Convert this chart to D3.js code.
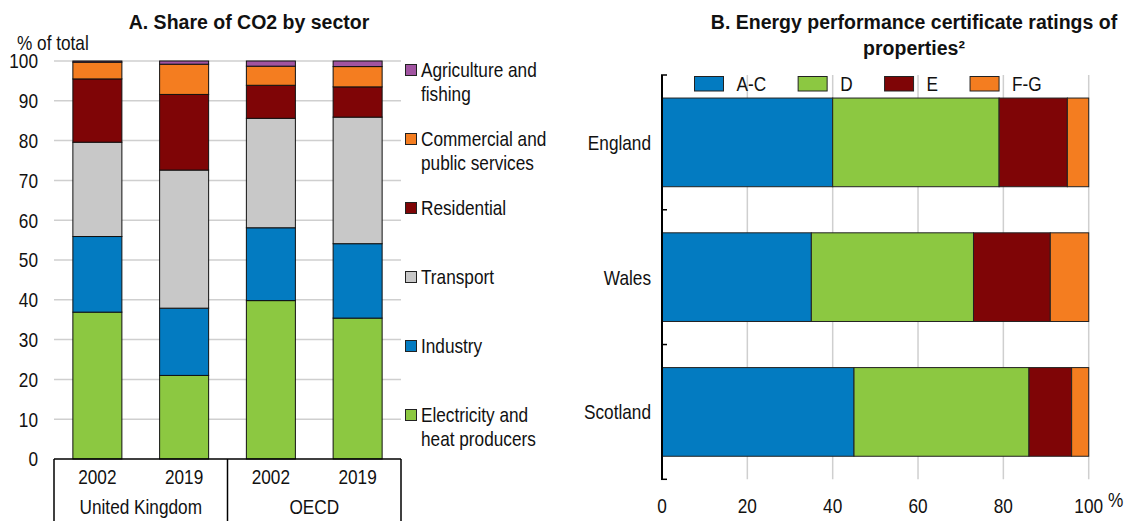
<!DOCTYPE html>
<html><head><meta charset="utf-8">
<script src="https://cdn.jsdelivr.net/npm/d3@7"></script>
<style>body{margin:0;background:#fff}svg{display:block}</style>
</head><body><svg id="c" width="1128" height="521"></svg>
<script>
// ---------- Panel A data ----------
const yearsA = ["2002", "2019", "2002", "2019"];
const groupsA = ["United Kingdom", "OECD"];
const sectorKeys = ["electricity", "industry", "transport", "residential", "commercial", "agriculture"];
const sectorLabels = [["Electricity and", "heat producers"], ["Industry"], ["Transport"], ["Residential"], ["Commercial and", "public services"], ["Agriculture and", "fishing"]];
const electricity = [36.9, 21.0, 39.8, 35.4];
const industry = [19.0, 16.9, 18.3, 18.7];
const transport = [23.7, 34.7, 27.5, 31.8];
const residential = [15.9, 19.0, 8.3, 7.6];
const commercial = [4.2, 7.6, 4.8, 5.1];
const agriculture = [0.3, 0.8, 1.3, 1.4];
const yTicksA = [0, 10, 20, 30, 40, 50, 60, 70, 80, 90, 100];

// ---------- Panel B data ----------
const regionsB = ["England", "Wales", "Scotland"];
const ratingKeys = ["A-C", "D", "E", "F-G"];
const ratingAC = [40, 35, 45];
const ratingD = [39, 38, 41];
const ratingE = [16, 18, 10];
const ratingFG = [5, 9, 4];
const xTicksB = [0, 20, 40, 60, 80, 100];

const sectorColors = ["#8cc841", "#037bc1", "#c8c8c8", "#7f0506", "#f47d20", "#a154a1"];
const ratingColors = ["#037bc1", "#8cc841", "#7f0506", "#f47d20"];

const FONT = '"Liberation Sans", Arial, sans-serif';
const SQ = 0.82; // horizontal squeeze to mimic a narrow face
const svg = d3.select("#c");

// narrow-looking label helper
function label(g, x, y, txt, anchor = "start", size = 21) {
  return g.append("text")
    .attr("transform", `translate(${x},${y}) scale(${SQ},1)`)
    .attr("dy", "0.35em").attr("text-anchor", anchor)
    .attr("font-family", FONT).attr("font-size", size).attr("fill", "#111").text(txt);
}

// ================= Panel A =================
{
  const rowsA = yearsA.map((y, i) => ({
    idx: i, electricity: electricity[i], industry: industry[i], transport: transport[i],
    residential: residential[i], commercial: commercial[i], agriculture: agriculture[i]
  }));
  const stackA = d3.stack().keys(sectorKeys)(rowsA);
  const x = d3.scaleBand().domain(d3.range(yearsA.length)).range([54, 401]).padding(0);
  const y = d3.scaleLinear().domain([0, 100]).range([459, 61]);
  const barW = x.bandwidth() * 0.565;
  const g = svg.append("g");

  g.selectAll("line.grid").data(yTicksA.filter(d => d > 0)).join("line")
    .attr("x1", 54).attr("x2", 401).attr("y1", d => y(d)).attr("y2", d => y(d))
    .attr("stroke", "#cfcfcf").attr("stroke-width", 1.5);

  yTicksA.forEach(d => label(g, 38, y(d), d, "end"));
  label(g, 17, 43, "% of total");

  stackA.forEach((s, si) => {
    g.selectAll(null).data(s).join("rect")
      .attr("x", (d, i) => x(i) + (x.bandwidth() - barW) / 2)
      .attr("width", barW)
      .attr("y", d => y(d[1]))
      .attr("height", d => y(d[0]) - y(d[1]))
      .attr("fill", sectorColors[si]).attr("stroke", "#111").attr("stroke-width", 1);
  });

  // x axis
  g.append("line").attr("x1", 54).attr("x2", 401).attr("y1", 459).attr("y2", 459)
    .attr("stroke", "#000").attr("stroke-width", 1.5);
  [54, x(2), 401].forEach(px => g.append("line").attr("x1", px).attr("x2", px)
    .attr("y1", 459).attr("y2", 521).attr("stroke", "#000").attr("stroke-width", 1.5));
  yearsA.forEach((d, i) => label(g, x(i) + x.bandwidth() / 2, 477, d, "middle"));
  groupsA.forEach((gName, gi) =>
    label(g, (x(gi * 2) + x(gi * 2 + 1) + x.bandwidth()) / 2, 507, gName, "middle"));

  // title
  g.append("text").attr("x", 249).attr("y", 22).attr("dy", "0.35em").attr("text-anchor", "middle")
    .attr("font-family", FONT).attr("font-weight", "bold").attr("font-size", 19.5).attr("fill", "#111")
    .text("A. Share of CO2 by sector");

  // legend (top to bottom: reverse of stacking order)
  const legOrder = d3.range(sectorKeys.length).reverse();
  legOrder.forEach((si, k) => {
    const cy = 70 + k * 69;
    g.append("rect").attr("x", 405.5).attr("y", cy - 5.5).attr("width", 11).attr("height", 11)
      .attr("fill", sectorColors[si]).attr("stroke", "#222").attr("stroke-width", 1);
    sectorLabels[si].forEach((line, li) => label(g, 421, cy + li * 24, line));
  });
}

// ================= Panel B =================
{
  const rowsB = regionsB.map((r, i) => ({ region: r, "A-C": ratingAC[i], "D": ratingD[i], "E": ratingE[i], "F-G": ratingFG[i] }));
  const stackB = d3.stack().keys(ratingKeys)(rowsB);
  const x = d3.scaleLinear().domain([0, 100]).range([662, 1088.7]);
  const y = d3.scaleBand().domain(regionsB).range([75, 479.3]).paddingInner(0.342).paddingOuter(0.171);
  const g = svg.append("g");

  g.selectAll("line.grid").data(xTicksB.filter(d => d > 0)).join("line")
    .attr("x1", d => x(d)).attr("x2", d => x(d)).attr("y1", 75).attr("y2", 479.3)
    .attr("stroke", "#cfcfcf").attr("stroke-width", 1.5);

  stackB.forEach((s, si) => {
    g.selectAll(null).data(s).join("rect")
      .attr("x", d => x(d[0])).attr("width", d => x(d[1]) - x(d[0]))
      .attr("y", d => y(d.data.region)).attr("height", y.bandwidth())
      .attr("fill", ratingColors[si]).attr("stroke", "#222").attr("stroke-width", 1);
  });

  // y axis
  g.append("line").attr("x1", 662).attr("x2", 662).attr("y1", 75).attr("y2", 479.3)
    .attr("stroke", "#000").attr("stroke-width", 2);
  const step = y.step();
  d3.range(regionsB.length + 1).forEach(i => {
    const py = 75 + i * step;
    g.append("line").attr("x1", 661).attr("x2", 667).attr("y1", py).attr("y2", py)
      .attr("stroke", "#000").attr("stroke-width", 1.5);
  });
  regionsB.forEach(d => label(g, 651, y(d) + y.bandwidth() / 2, d, "end"));
  xTicksB.forEach(d => label(g, x(d), 506, d, "middle"));
  label(g, 1108, 500, "%");

  // title
  const t = g.append("text").attr("text-anchor", "middle").attr("font-family", FONT)
    .attr("font-weight", "bold").attr("font-size", 19.5).attr("fill", "#111");
  t.append("tspan").attr("x", 914).attr("y", 22).attr("dy", "0.35em").text("B. Energy performance certificate ratings of");
  t.append("tspan").attr("x", 914).attr("y", 48).attr("dy", "0.35em").text("properties²");

  // legend
  let lx = 694.5;
  ratingKeys.forEach((k, i) => {
    g.append("rect").attr("x", lx).attr("y", 76.5).attr("width", 29).attr("height", 14.5)
      .attr("fill", ratingColors[i]).attr("stroke", "#222").attr("stroke-width", 1);
    const tx = label(g, lx + 42, 84, k);
    lx = lx + 42 + tx.node().getComputedTextLength() * SQ + 32;
  });
}
</script>
</body></html>
